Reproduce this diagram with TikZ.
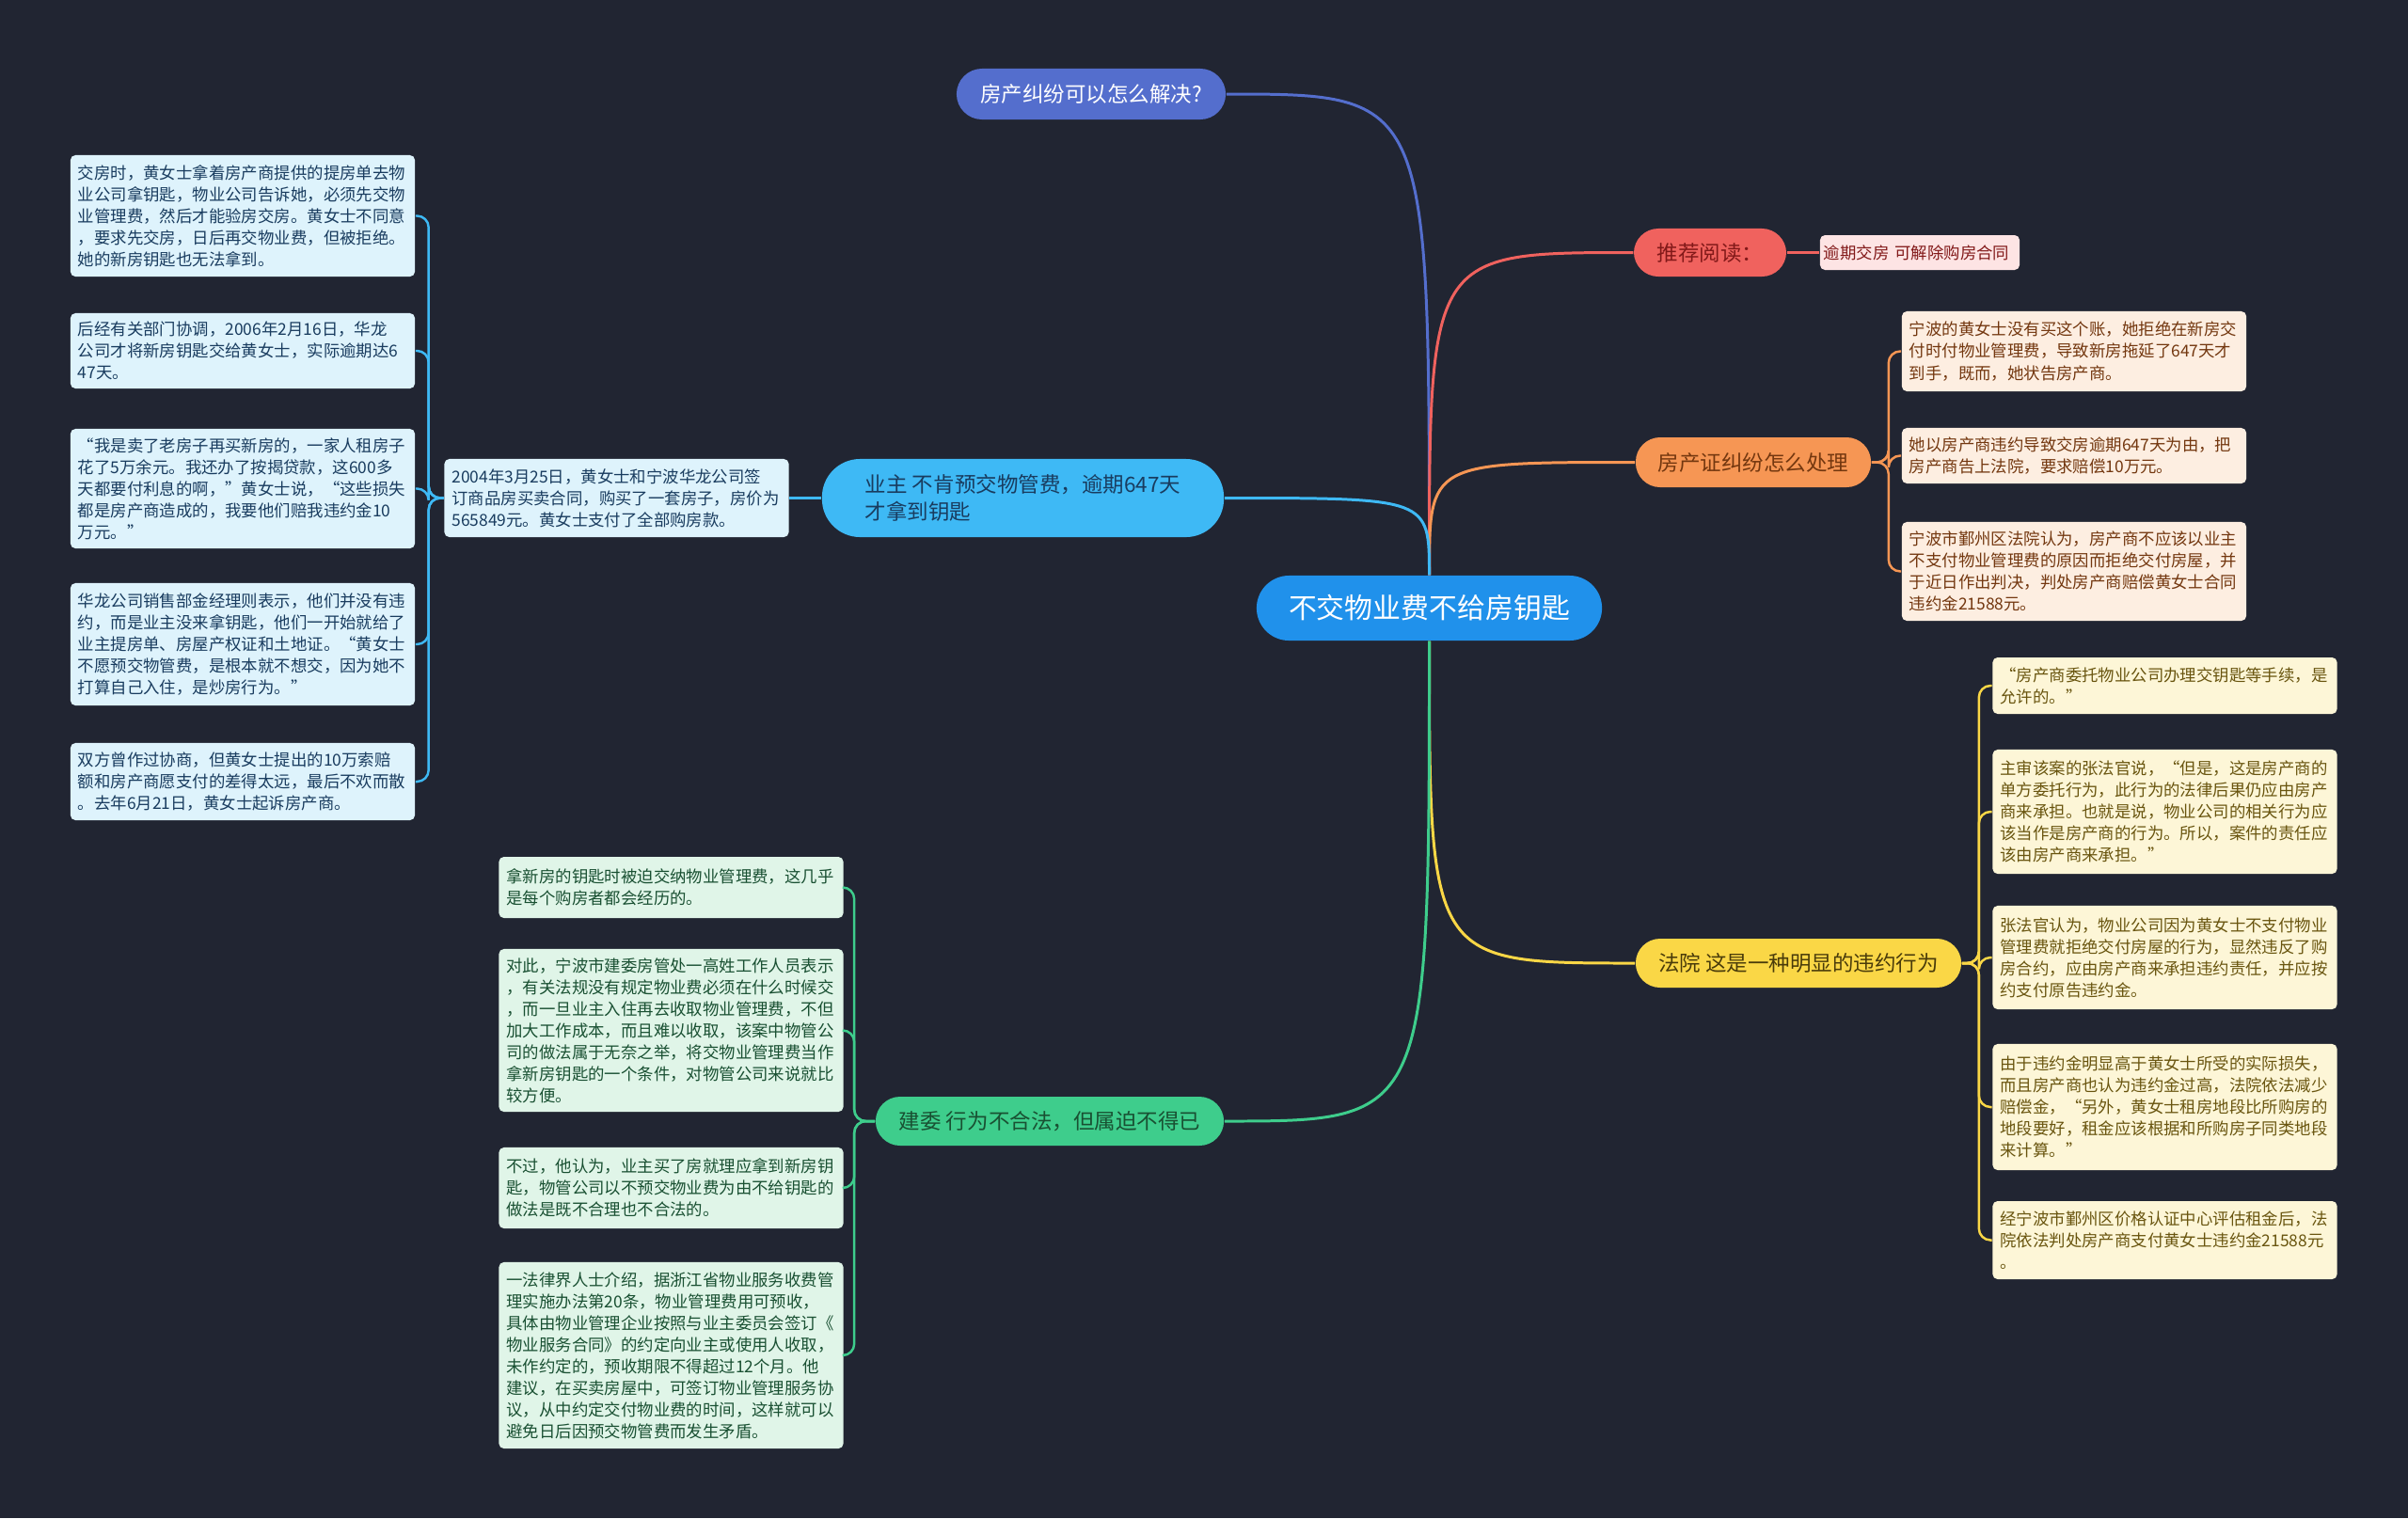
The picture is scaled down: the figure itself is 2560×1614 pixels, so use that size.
\documentclass[tikz,border=0pt]{standalone}
\usepackage{fontspec}
\setmainfont{Noto Sans CJK SC}
\usepackage{tikz}
\usetikzlibrary{calc}
\usepackage{xcolor}

\definecolor{bgc}{RGB}{33,37,50}
\definecolor{cmain}{RGB}{32,145,235}
\definecolor{cpurple}{RGB}{84,110,205}
\definecolor{cred}{RGB}{240,98,94}
\definecolor{corange}{RGB}{246,150,84}
\definecolor{cyellow}{RGB}{250,215,70}
\definecolor{ccyan}{RGB}{62,185,245}
\definecolor{cgreen}{RGB}{62,205,140}
\definecolor{fred}{RGB}{253,228,228}
\definecolor{forange}{RGB}{253,238,225}
\definecolor{fyellow}{RGB}{253,246,215}
\definecolor{fcyan}{RGB}{222,243,252}
\definecolor{fgreen}{RGB}{224,245,232}
\definecolor{tred}{RGB}{130,25,25}
\definecolor{torange}{RGB}{115,55,15}
\definecolor{tyellow}{RGB}{105,85,15}
\definecolor{tcyan}{RGB}{25,60,95}
\definecolor{tgreen}{RGB}{25,80,50}

\begin{document}
\begin{tikzpicture}[x=0.01cm, y=-0.01cm,
  topic/.style={fill=#1, rounded corners=7.4pt, inner sep=0pt, align=left,
    font=\fontsize{6.4pt}{8.3pt}\selectfont},
  leaf/.style args={#1/#2}{fill=#1, text=#2, rounded corners=1.5pt, inner xsep=0.8mm,
    inner ysep=0pt, text width=3.5cm, align=left, font=\fontsize{4.95pt}{6.55pt}\selectfont},
  link/.style={line width=0.85pt, draw=#1},
  twig/.style={line width=0.7pt, draw=#1, rounded corners=3.5pt}]

\fill[bgc] (0,0) rectangle (2560,1614);
\useasboundingbox (0,0) rectangle (2560,1614);

\node[topic=cmain, text=white, minimum width=3.67cm, minimum height=0.69cm, rounded corners=9.8pt,
  font=\fontsize{8.5pt}{10pt}\selectfont] (ctr) at (1519.5,646.5) {不交物业费不给房钥匙};

\node[topic=cpurple, text=white, minimum width=2.86cm, minimum height=0.54cm, rounded corners=7.7pt]
  (ask) at (1160,100) {房产纠纷可以怎么解决?};

% recommended reading
\node[topic=cred, text=tred, minimum width=1.62cm, minimum height=0.51cm] (rec) at (1818,268.5) {推荐阅读：};
\node[leaf=fred/tred, text width=2.04cm, inner xsep=0.4mm, minimum height=0.37cm] (recA) at (2041,268.5) {逾期交房 可解除购房合同};

% certificate dispute
\node[topic=corange, text=torange, minimum width=2.5cm, minimum height=0.53cm] (cert) at (1864,491.5) {房产证纠纷怎么处理};
\node[leaf=forange/torange, minimum height=0.85cm] (cert1) at (2205,373.5)
  {宁波的黄女士没有买这个账，她拒绝在新房交\\付时付物业管理费，导致新房拖延了647天才\\到手，既而，她状告房产商。};
\node[leaf=forange/torange, minimum height=0.59cm] (cert2) at (2205,484.5)
  {她以房产商违约导致交房逾期647天为由，把\\房产商告上法院，要求赔偿10万元。};
\node[leaf=forange/torange, minimum height=1.05cm] (cert3) at (2205,607.5)
  {宁波市鄞州区法院认为，房产商不应该以业主\\不支付物业管理费的原因而拒绝交付房屋，并\\于近日作出判决，判处房产商赔偿黄女士合同\\违约金21588元。};

% court
\node[topic=cyellow, text=tyellow!70!black, minimum width=3.46cm, minimum height=0.52cm] (court) at (1912,1024) {法院 这是一种明显的违约行为};
\node[leaf=fyellow/tyellow, minimum height=0.6cm] (court1) at (2301.5,729)
  {“房产商委托物业公司办理交钥匙等手续，是\\允许的。”};
\node[leaf=fyellow/tyellow, minimum height=1.32cm] (court2) at (2301.5,863)
  {主审该案的张法官说，“但是，这是房产商的\\单方委托行为，此行为的法律后果仍应由房产\\商来承担。也就是说，物业公司的相关行为应\\该当作是房产商的行为。所以，案件的责任应\\该由房产商来承担。”};
\node[leaf=fyellow/tyellow, minimum height=1.1cm] (court3) at (2301.5,1018)
  {张法官认为，物业公司因为黄女士不支付物业\\管理费就拒绝交付房屋的行为，显然违反了购\\房合约，应由房产商来承担违约责任，并应按\\约支付原告违约金。};
\node[leaf=fyellow/tyellow, minimum height=1.34cm] (court4) at (2301.5,1177)
  {由于违约金明显高于黄女士所受的实际损失，\\而且房产商也认为违约金过高，法院依法减少\\赔偿金，“另外，黄女士租房地段比所购房的\\地段要好，租金应该根据和所购房子同类地段\\来计算。”};
\node[leaf=fyellow/tyellow, minimum height=0.83cm] (court5) at (2301.5,1318.5)
  {经宁波市鄞州区价格认证中心评估租金后，法\\院依法判处房产商支付黄女士违约金21588元\\。};

% owner
\node[topic=ccyan, text=tcyan, minimum width=4.27cm, minimum height=0.83cm, rounded corners=11.5pt] (owner) at (1087.5,529.5)
  {业主 不肯预交物管费，逾期647天\\才拿到钥匙};
\node[leaf=fcyan/tcyan, minimum height=0.83cm] (sign) at (655.5,529.5)
  {2004年3月25日，黄女士和宁波华龙公司签\\订商品房买卖合同，购买了一套房子，房价为\\565849元。黄女士支付了全部购房款。};
\node[leaf=fcyan/tcyan, minimum height=1.29cm] (fact1) at (258,229.5)
  {交房时，黄女士拿着房产商提供的提房单去物\\业公司拿钥匙，物业公司告诉她，必须先交物\\业管理费，然后才能验房交房。黄女士不同意\\，要求先交房，日后再交物业费，但被拒绝。\\她的新房钥匙也无法拿到。};
\node[leaf=fcyan/tcyan, minimum height=0.8cm] (fact2) at (258,373)
  {后经有关部门协调，2006年2月16日，华龙\\公司才将新房钥匙交给黄女士，实际逾期达6\\47天。};
\node[leaf=fcyan/tcyan, minimum height=1.27cm] (fact3) at (258,519.5)
  {“我是卖了老房子再买新房的，一家人租房子\\花了5万余元。我还办了按揭贷款，这600多\\天都要付利息的啊，”黄女士说，“这些损失\\都是房产商造成的，我要他们赔我违约金10\\万元。”};
\node[leaf=fcyan/tcyan, minimum height=1.3cm] (fact4) at (258,685)
  {华龙公司销售部金经理则表示，他们并没有违\\约，而是业主没来拿钥匙，他们一开始就给了\\业主提房单、房屋产权证和土地证。“黄女士\\不愿预交物管费，是根本就不想交，因为她不\\打算自己入住，是炒房行为。”};
\node[leaf=fcyan/tcyan, minimum height=0.82cm] (fact5) at (258,831)
  {双方曾作过协商，但黄女士提出的10万索赔\\额和房产商愿支付的差得太远，最后不欢而散\\。去年6月21日，黄女士起诉房产商。};

% construction bureau
\node[topic=cgreen, text=tgreen, minimum width=3.7cm, minimum height=0.52cm] (bur) at (1116,1192) {建委 行为不合法，但属迫不得已};
\node[leaf=fgreen/tgreen, minimum height=0.65cm] (bur1) at (713.5,943.5)
  {拿新房的钥匙时被迫交纳物业管理费，这几乎\\是每个购房者都会经历的。};
\node[leaf=fgreen/tgreen, minimum height=1.73cm] (bur2) at (713.5,1095.5)
  {对此，宁波市建委房管处一高姓工作人员表示\\，有关法规没有规定物业费必须在什么时候交\\，而一旦业主入住再去收取物业管理费，不但\\加大工作成本，而且难以收取，该案中物管公\\司的做法属于无奈之举，将交物业管理费当作\\拿新房钥匙的一个条件，对物管公司来说就比\\较方便。};
\node[leaf=fgreen/tgreen, minimum height=0.86cm] (bur3) at (713.5,1263)
  {不过，他认为，业主买了房就理应拿到新房钥\\匙，物管公司以不预交物业费为由不给钥匙的\\做法是既不合理也不合法的。};
\node[leaf=fgreen/tgreen, minimum height=1.98cm] (bur4) at (713.5,1441)
  {一法律界人士介绍，据浙江省物业服务收费管\\理实施办法第20条，物业管理费用可预收，\\具体由物业管理企业按照与业主委员会签订《\\物业服务合同》的约定向业主或使用人收取，\\未作约定的，预收期限不得超过12个月。他\\建议，在买卖房屋中，可签订物业管理服务协\\议，从中约定交付物业费的时间，这样就可以\\避免日后因预交物管费而发生矛盾。};

% main branches
\draw[link=cpurple] (ctr.north) .. controls (ctr.north |- ask.east) .. (ask.east);
\draw[link=cred] (ctr.north) .. controls (ctr.north |- rec.west) .. (rec.west);
\draw[link=corange] (ctr.north) .. controls (ctr.north |- cert.west) .. (cert.west);
\draw[link=ccyan] (ctr.north) .. controls (ctr.north |- owner.east) .. (owner.east);
\draw[link=cyellow] (ctr.south) .. controls (ctr.south |- court.west) .. (court.west);
\draw[link=cgreen] (ctr.south) .. controls (ctr.south |- bur.east) .. (bur.east);

% sub branches
\draw[twig=cred] (rec.east) -- (recA.west);
\draw[twig=corange] (cert.east) -- ++(18,0) |- (cert1.west);
\draw[twig=corange] (cert.east) -- ++(18,0) |- (cert2.west);
\draw[twig=corange] (cert.east) -- ++(18,0) |- (cert3.west);
\draw[twig=cyellow] (court.east) -- ++(18,0) |- (court1.west);
\draw[twig=cyellow] (court.east) -- ++(18,0) |- (court2.west);
\draw[twig=cyellow] (court.east) -- ++(18,0) |- (court3.west);
\draw[twig=cyellow] (court.east) -- ++(18,0) |- (court4.west);
\draw[twig=cyellow] (court.east) -- ++(18,0) |- (court5.west);
\draw[twig=ccyan] (owner.west) -- (sign.east);
\draw[twig=ccyan] (sign.west) -- ++(-16,0) |- (fact1.east);
\draw[twig=ccyan] (sign.west) -- ++(-16,0) |- (fact2.east);
\draw[twig=ccyan] (sign.west) -- ++(-16,0) |- (fact3.east);
\draw[twig=ccyan] (sign.west) -- ++(-16,0) |- (fact4.east);
\draw[twig=ccyan] (sign.west) -- ++(-16,0) |- (fact5.east);
\draw[twig=cgreen] (bur.west) -- ++(-22,0) |- (bur1.east);
\draw[twig=cgreen] (bur.west) -- ++(-22,0) |- (bur2.east);
\draw[twig=cgreen] (bur.west) -- ++(-22,0) |- (bur3.east);
\draw[twig=cgreen] (bur.west) -- ++(-22,0) |- (bur4.east);

\end{tikzpicture}
\end{document}
